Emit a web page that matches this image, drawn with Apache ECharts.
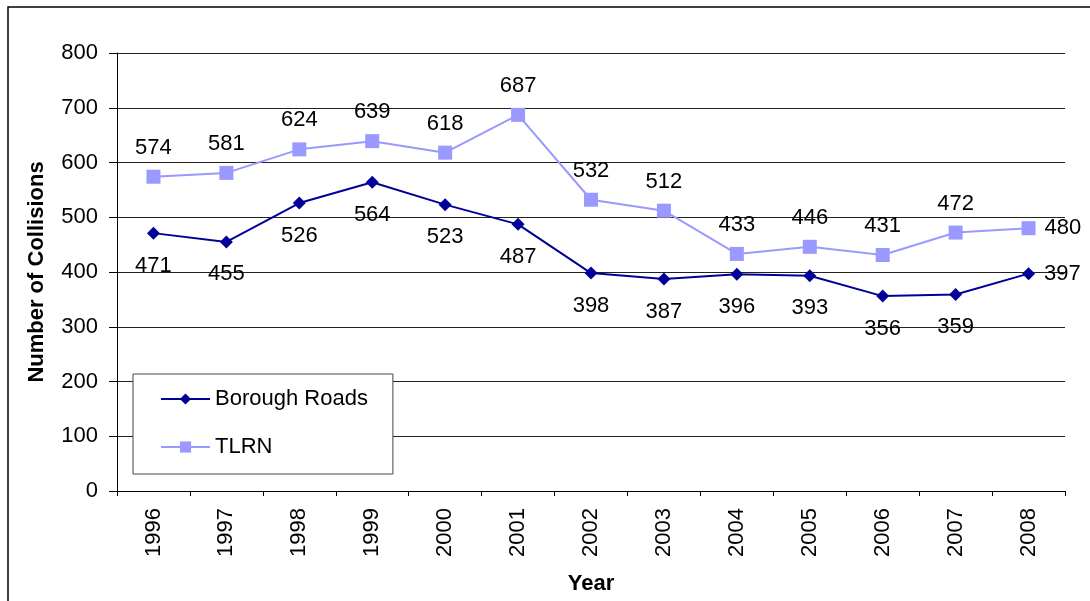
<!DOCTYPE html>
<html>
<head>
<meta charset="utf-8">
<script src="https://cdn.jsdelivr.net/npm/echarts@6/dist/echarts.min.js"></script>
<style>
  html, body { margin: 0; padding: 0; background: #fff; }
  #chart { width: 1090px; height: 601px; }
</style>
</head>
<body>
<div id="chart"></div>
<script>
// Road collisions per year, by road network
const years = ['1996','1997','1998','1999','2000','2001','2002','2003','2004','2005','2006','2007','2008'];
const boroughRoads = [471, 455, 526, 564, 523, 487, 398, 387, 396, 393, 356, 359, 397];
const tlrn = [574, 581, 624, 639, 618, 687, 532, 512, 433, 446, 431, 472, 480];
const yTicks = [0, 100, 200, 300, 400, 500, 600, 700, 800];

const FONT = "'Liberation Sans', Arial, sans-serif";
const BOROUGH_COLOR = '#000099';
const TLRN_COLOR = '#9999FF';

// Labels sit below (Borough) / above (TLRN); the last point's label goes to the right
function withLabels(values, pos, dist) {
  return values.map((v, i) => {
    if (i === values.length - 1) {
      return { value: v, label: { position: 'right', distance: 9 } };
    }
    return { value: v, label: { position: pos, distance: dist } };
  });
}

const chart = echarts.init(document.getElementById('chart'), null, { renderer: 'canvas' });

chart.setOption({
  animation: false,
  backgroundColor: '#fff',
  textStyle: { fontFamily: FONT },
  graphic: [{
    type: 'rect',
    shape: { x: 8, y: 7, width: 1100, height: 620 },
    style: { fill: 'none', stroke: '#000', lineWidth: 1.5 },
    z: -1
  }],
  grid: { left: 117, right: 25, top: 53, bottom: 110, containLabel: false },
  legend: {
    orient: 'vertical',
    left: 133,
    top: 374,
    padding: [13, 25, 15, 27],
    itemWidth: 49,
    itemHeight: 14,
    itemGap: 24,
    backgroundColor: '#fff',
    borderColor: '#444',
    borderWidth: 1,
    textStyle: { fontFamily: FONT, fontSize: 22, color: '#000', lineHeight: 24 },
    data: ['Borough Roads', 'TLRN']
  },
  xAxis: {
    type: 'category',
    data: years,
    boundaryGap: true,
    name: 'Year',
    nameLocation: 'middle',
    nameGap: 82,
    nameTextStyle: { fontFamily: FONT, fontSize: 22, fontWeight: 'bold', color: '#000' },
    axisLine: { lineStyle: { color: '#000', width: 1 } },
    axisTick: { show: true, length: 5, lineStyle: { color: '#000' } },
    axisLabel: { rotate: 90, fontSize: 22, color: '#000', margin: 17, fontFamily: FONT },
    splitLine: { show: false }
  },
  yAxis: {
    type: 'value',
    min: yTicks[0],
    max: yTicks[yTicks.length - 1],
    interval: yTicks[1] - yTicks[0],
    name: 'Number of Collisions',
    nameLocation: 'middle',
    nameRotate: 90,
    nameGap: 69,
    nameTextStyle: { fontFamily: FONT, fontSize: 22, fontWeight: 'bold', color: '#000' },
    axisLine: { show: true, lineStyle: { color: '#000', width: 1 } },
    axisTick: { show: true, length: 8, lineStyle: { color: '#000' } },
    axisLabel: { fontSize: 22, color: '#000', margin: 19, fontFamily: FONT },
    splitLine: { show: true, lineStyle: { color: '#222', width: 1 } }
  },
  series: [
    {
      name: 'Borough Roads',
      type: 'line',
      data: withLabels(boroughRoads, 'bottom', 15),
      symbol: 'diamond',
      symbolSize: 13,
      itemStyle: { color: BOROUGH_COLOR },
      lineStyle: { color: BOROUGH_COLOR, width: 2 },
      label: { show: true, fontSize: 22, color: '#000', fontFamily: FONT },
      z: 3
    },
    {
      name: 'TLRN',
      type: 'line',
      data: withLabels(tlrn, 'top', 11),
      symbol: 'rect',
      symbolSize: 14,
      itemStyle: { color: TLRN_COLOR },
      lineStyle: { color: TLRN_COLOR, width: 2 },
      label: { show: true, fontSize: 22, color: '#000', fontFamily: FONT },
      z: 2
    }
  ]
});
</script>
</body>
</html>
